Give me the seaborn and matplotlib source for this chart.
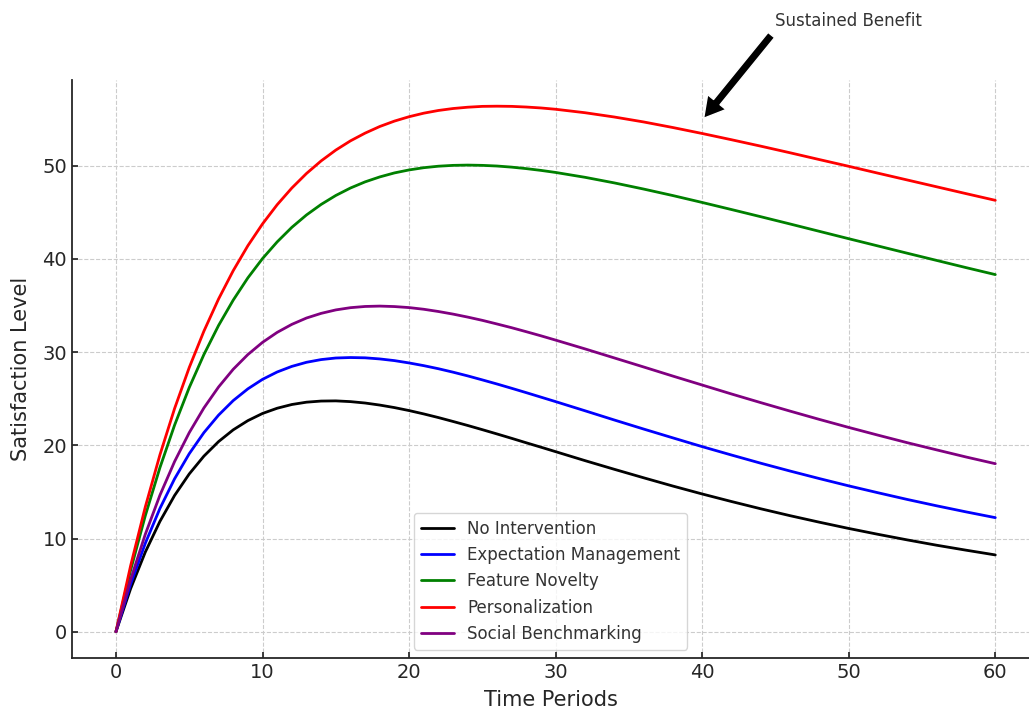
import numpy as np
import pandas as pd
import matplotlib
matplotlib.use("Agg")
import matplotlib.pyplot as plt
import seaborn as sns

# time axis
time = [0, 1, 2, 3, 4, 5, 6, 7, 8, 9, 10,
        11, 12, 13, 14, 15, 16, 17, 18, 19, 20,
        21, 22, 23, 24, 25, 26, 27, 28, 29, 30,
        32, 34, 36, 38, 40, 42, 44, 46, 48, 50, 52, 54, 56, 58, 60]

# satisfaction level per strategy
no_intervention = [0.0, 4.62, 8.54, 11.84, 14.62, 16.93, 18.84, 20.40, 21.66, 22.65, 23.42,
                   23.98, 24.38, 24.63, 24.75, 24.77, 24.69, 24.54, 24.32, 24.05, 23.73,
                   23.37, 22.98, 22.56, 22.13, 21.68, 21.22, 20.75, 20.27, 19.80, 19.32,
                   18.36, 17.43, 16.52, 15.63, 14.78, 13.97, 13.19, 12.45, 11.75, 11.08,
                   10.45, 9.85, 9.28, 8.75, 8.24]
expectation_mgmt = [0.0, 5.11, 9.48, 13.23, 16.41, 19.10, 21.36, 23.24, 24.80, 26.06, 27.08,
                    27.87, 28.47, 28.91, 29.20, 29.37, 29.42, 29.39, 29.27, 29.09, 28.84,
                    28.55, 28.22, 27.85, 27.45, 27.02, 26.58, 26.12, 25.65, 25.17, 24.69,
                    23.71, 22.72, 21.75, 20.80, 19.86, 18.96, 18.08, 17.24, 16.43, 15.65,
                    14.91, 14.19, 13.51, 12.86, 12.24]
feature_novelty = [0.0, 6.60, 12.44, 17.61, 22.17, 26.20, 29.74, 32.86, 35.58, 37.97, 40.04,
                   41.83, 43.39, 44.72, 45.85, 46.81, 47.61, 48.27, 48.80, 49.23, 49.55,
                   49.79, 49.95, 50.04, 50.07, 50.04, 49.97, 49.85, 49.69, 49.50, 49.28,
                   48.76, 48.16, 47.50, 46.80, 46.06, 45.30, 44.53, 43.75, 42.96, 42.17,
                   41.39, 40.61, 39.84, 39.07, 38.32]
personalization = [0.0, 7.08, 13.38, 18.98, 23.95, 28.35, 32.25, 35.70, 38.74, 41.42, 43.76,
                   45.82, 47.61, 49.17, 50.52, 51.68, 52.67, 53.50, 54.21, 54.79, 55.26,
                   55.64, 55.93, 56.14, 56.28, 56.37, 56.39, 56.37, 56.30, 56.20, 56.06,
                   55.69, 55.23, 54.70, 54.10, 53.46, 52.79, 52.10, 51.39, 50.66, 49.94,
                   49.20, 48.47, 47.74, 47.01, 46.29]
social_bench = [0.0, 5.60, 10.45, 14.65, 18.26, 21.36, 24.01, 26.26, 28.16, 29.74, 31.05,
                32.12, 32.98, 33.66, 34.16, 34.53, 34.77, 34.90, 34.94, 34.89, 34.78,
                34.60, 34.36, 34.08, 33.76, 33.41, 33.02, 32.62, 32.19, 31.75, 31.29,
                30.35, 29.38, 28.41, 27.43, 26.47, 25.51, 24.58, 23.67, 22.78, 21.92,
                21.09, 20.28, 19.51, 18.75, 18.03]

strategies = ["No Intervention", "Expectation Management", "Feature Novelty",
              "Personalization", "Social Benchmarking"]
colors = ["black", "blue", "green", "red", "purple"]

series = [no_intervention, expectation_mgmt, feature_novelty, personalization, social_bench]
df = pd.concat([pd.DataFrame({"Time": time, "Satisfaction": vals, "Strategy": name})
                for name, vals in zip(strategies, series)], ignore_index=True)

sns.set_theme(style="ticks")
plt.rcParams["font.family"] = ["DejaVu Sans"]

fig = plt.figure(figsize=(10.29, 7.11), dpi=100)
ax = fig.add_axes([72 / 1029, 53 / 711, 957 / 1029, 578 / 711])

sns.lineplot(data=df, x="Time", y="Satisfaction", hue="Strategy",
             hue_order=strategies, palette=dict(zip(strategies, colors)),
             linewidth=2, ax=ax)

ax.set_xlim(-3, 62.3)
ax.set_ylim(-2.82, 59.2)
ax.set_xticks([0, 10, 20, 30, 40, 50, 60])
ax.set_yticks([0, 10, 20, 30, 40, 50])

ax.grid(True, linestyle="--", color="#cccccc", linewidth=0.8)
ax.tick_params(direction="in", labelsize=14, colors="#262626", length=4)
for s in ["top", "right"]:
    ax.spines[s].set_visible(False)
for s in ["left", "bottom"]:
    ax.spines[s].set_color("#262626")
    ax.spines[s].set_linewidth(1.3)

ax.set_xlabel("Time Periods", fontsize=15, color="#262626", labelpad=6)
ax.set_ylabel("Satisfaction Level", fontsize=15, color="#262626", labelpad=8)

# arrow pointing at the personalization curve
ax.annotate("Sustained Benefit", xy=(40, 54.9), xytext=(45, 65),
            fontsize=12, color="#333333", annotation_clip=False,
            arrowprops=dict(facecolor="black", shrink=0.02,
                            width=6, headwidth=17, headlength=15))

leg = ax.legend(loc="lower center", fontsize=12, framealpha=0.8)
for t in leg.get_texts():
    t.set_color("#333333")

fig.savefig("out.png", dpi=100)
